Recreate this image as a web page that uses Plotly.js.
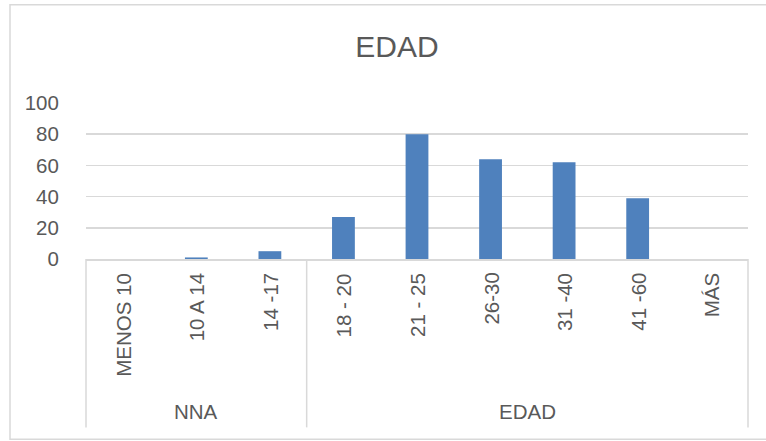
<!DOCTYPE html>
<html>
<head>
<meta charset="utf-8">
<script src="https://cdn.plot.ly/plotly-3.0.1.min.js"></script>
<style>html,body{margin:0;padding:0;background:#fff;}#chart{width:766px;height:441px;}</style>
</head>
<body>
<div id="chart"></div>
<script>
// Data
const categories = ['MENOS 10', '10 A 14', '14 -17', '18 - 20', '21 - 25', '26-30', '31 -40', '41 -60', 'MÁS'];
const values = [0, 1, 5, 27, 80, 64, 62, 39, 0];
const groupNames = ['NNA', 'EDAD'];
const groupSizes = [3, 6];
const yTicks = [0, 20, 40, 60, 80, 100];
const chartTitle = 'EDAD';

const txtColor = '#595959';
const lineColor = '#d9d9d9';
const fontFam = 'Liberation Sans, Arial, sans-serif';

// geometry (pixels)
const W = 766, H = 441;
const mL = 86, mR = 18, mT = 103, mB = 181.7;
const plotW = W - mL - mR, plotH = H - mT - mB;
const px2x = px => (px - mL) / plotW;
const px2y = py => (H - mB - py) / plotH;

const annotations = [];
categories.forEach((c, i) => {
  annotations.push({
    x: i, xref: 'x', y: 0, yref: 'paper',
    yanchor: 'top', xanchor: 'center', yshift: -12,
    text: c, textangle: -90, showarrow: false,
    font: {family: fontFam, size: 20.5, color: txtColor}
  });
});

const shapes = [];
const n = categories.length;
let start = 0;
// group dividers and labels
shapes.push({type: 'line', xref: 'paper', yref: 'paper', x0: 0, x1: 0, y0: 0, y1: px2y(428),
  line: {color: lineColor, width: 1.5}});
groupNames.forEach((g, k) => {
  const end = start + groupSizes[k];
  annotations.push({
    x: (start + end - 1) / 2, xref: 'x', y: 0, yref: 'paper',
    yanchor: 'middle', xanchor: 'center', yshift: -(412 - (H - mB)),
    text: g, showarrow: false,
    font: {family: fontFam, size: 20.5, color: txtColor}
  });
  shapes.push({type: 'line', xref: 'paper', yref: 'paper', x0: end / n, x1: end / n, y0: 0, y1: px2y(428),
    line: {color: lineColor, width: 1.5}});
  start = end;
});

// outer chart border
shapes.push({type: 'rect', xref: 'paper', yref: 'paper',
  x0: px2x(10), x1: px2x(790), y0: px2y(440), y1: px2y(4.5),
  line: {color: lineColor, width: 1.5}, fillcolor: 'rgba(0,0,0,0)', layer: 'below'});

const trace = {
  type: 'bar', x: categories, y: values,
  marker: {color: '#4f81bd'},
  hoverinfo: 'x+y'
};

const layout = {
  width: W, height: H,
  margin: {l: mL, r: mR, t: mT, b: mB, pad: 0},
  paper_bgcolor: '#fff', plot_bgcolor: '#fff',
  showlegend: false,
  bargap: 0.69,
  title: {text: chartTitle, font: {family: fontFam, size: 30, color: txtColor},
    xref: 'container', x: 397 / W, xanchor: 'center',
    yref: 'container', y: 1 - 46 / H, yanchor: 'middle'},
  xaxis: {type: 'category', showticklabels: false, showgrid: false, zeroline: false,
    showline: true, linecolor: lineColor, linewidth: 1.5, ticks: '', fixedrange: true},
  yaxis: {range: [0, 100], tickvals: yTicks, ticktext: yTicks.map(String),
    showgrid: true, gridcolor: lineColor, gridwidth: 1.5, zeroline: false, showline: false,
    ticks: 'outside', ticklen: 22, tickcolor: 'rgba(0,0,0,0)',
    tickfont: {family: fontFam, size: 20.5, color: txtColor}, fixedrange: true},
  annotations: annotations,
  shapes: shapes
};

Plotly.newPlot('chart', [trace], layout, {displayModeBar: false, staticPlot: true});
</script>
</body>
</html>
